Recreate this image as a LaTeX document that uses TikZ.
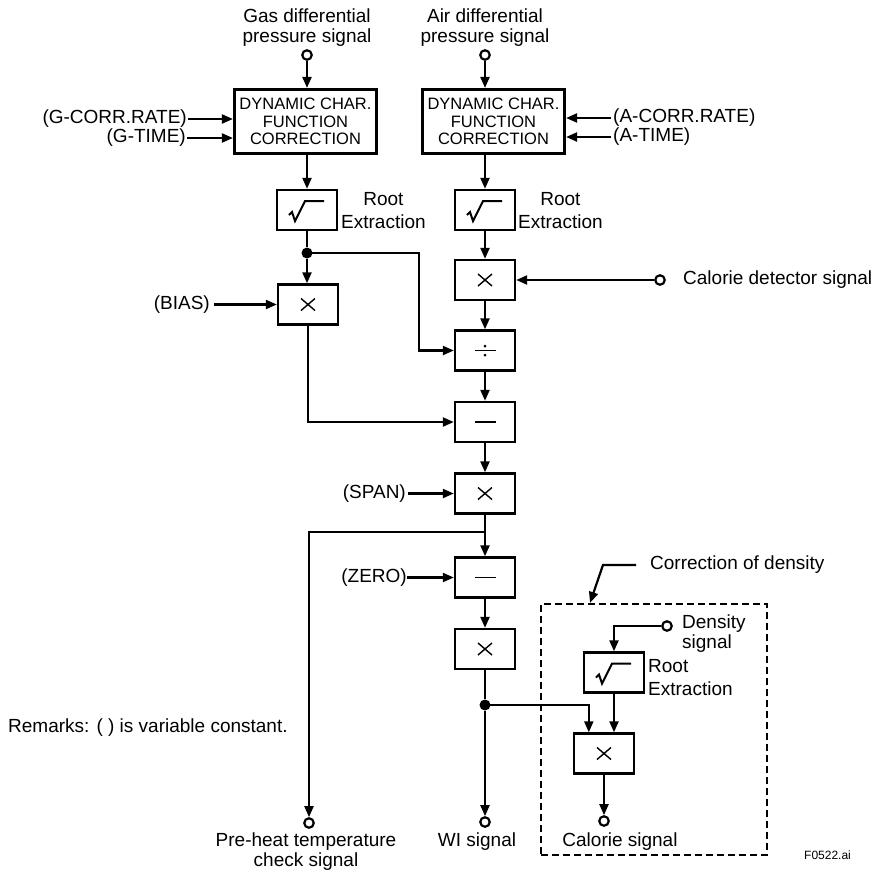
\documentclass[tikz,border=0pt]{standalone}
\usepackage{fontspec}
\setmainfont{Liberation Sans}
\usetikzlibrary{arrows.meta,calc}
\newcommand\MulSym[1]{\draw[sym] ($(#1)+(-7,-6)$) -- ++(14,12) ($(#1)+(-7,6)$) -- ++(14,-12);}
\newcommand\DivSym[1]{\draw[sym] ($(#1)+(-10.5,0)$) -- ++(21,0); \fill ($(#1)+(0,-4.5)$) circle (1.5) ($(#1)+(0,4.5)$) circle (1.5);}
\newcommand\SubSym[1]{\draw[sym] ($(#1)+(-10.5,0)$) -- ++(21,0);}
\newcommand\RootSym[1]{\draw[line width=2pt,line join=miter] ($(#1)+(-18,5)$) -- ++(3,-3) -- ++(3,9) -- ++(10,-20) -- ++(19,0);}
\begin{document}
\begin{tikzpicture}[x=1pt,y=-1pt,
  box/.style={draw, line width=2.4pt, minimum width=60pt, minimum height=40pt, inner sep=0pt, fill=white},
  dcf/.style={draw, line width=3.2pt, minimum width=142pt, minimum height=64pt, align=center, inner sep=0pt,
     font=\fontsize{16.5}{17.5}\selectfont},
  conn/.style={line width=2.2pt, -{Triangle[length=11pt,width=9pt]}},
  inarr/.style={conn, shorten <=2pt},
  wire/.style={line width=2.2pt},
  sym/.style={line width=1.4pt},
  term/.style={circle, draw, line width=2.2pt, fill=white, inner sep=0pt, minimum size=9.5pt},
  jdot/.style={circle, fill, inner sep=0pt, minimum size=11pt},
  lbl/.style={inner sep=0pt, font=\fontsize{19}{20}\selectfont},
  lbl2/.style={inner sep=0pt, font=\fontsize{19}{23}\selectfont},
]
\useasboundingbox (0,0) rectangle (878,871);

% ---------------- nodes ----------------
\node[lbl, align=center, anchor=south] (gasLbl) at (307,47) {Gas differential\\pressure signal};
\node[lbl, align=center, anchor=south] (airLbl) at (485,47) {Air differential\\pressure signal};
\node[term] (gasIn) at (307,55) {};
\node[term] (airIn) at (485,55) {};

\node[dcf] (dcfG) at (305.5,121.5) {DYNAMIC CHAR.\\FUNCTION\\CORRECTION};
\node[dcf] (dcfA) at (493.5,121.5) {DYNAMIC CHAR.\\FUNCTION\\CORRECTION};

\node[lbl, anchor=east] (gcorr) at (187,119) {(G-CORR.RATE)};
\node[lbl, anchor=east] (gtime) at (186,138) {(G-TIME)};
\node[lbl, anchor=west] (acorr) at (613,118) {(A-CORR.RATE)};
\node[lbl, anchor=west] (atime) at (613,137) {(A-TIME)};

\node[box] (rootG) at (307,210) {};
\node[box] (rootA) at (485,210) {};
\node[lbl2, align=center, anchor=west] (rootGLbl) at (341,211) {Root\\Extraction};
\node[lbl2, align=center, anchor=west] (rootALbl) at (518,211) {Root\\Extraction};

\node[jdot] (dot1) at (307,253) {};
\node[box] (bias) at (308,304.5) {};
\node[lbl, anchor=east] (biasLbl) at (210,304.5) {(BIAS)};

\node[box] (mulA) at (485,280) {};
\node[term] (calDet) at (660,280) {};
\node[lbl, anchor=west] (calDetLbl) at (683,280) {Calorie detector signal};

\node[box] (div) at (485,350.5) {};
\node[box] (sub) at (485,422) {};
\node[box] (span) at (485,493.5) {};
\node[lbl, anchor=east] (spanLbl) at (406,493.5) {(SPAN)};
\coordinate (br2) at (485,532);
\node[box] (zero) at (485,577.5) {};
\node[lbl, anchor=east] (zeroLbl) at (407,577.5) {(ZERO)};
\node[box] (mul2) at (485,649) {};
\node[jdot] (dot2) at (485,705) {};

\node[term] (preheat) at (309,823) {};
\node[term] (wi) at (485,822) {};
\node[lbl, align=center, anchor=north] (preheatLbl) at (306,833) {Pre-heat temperature\\check signal};
\node[lbl, anchor=north] (wiLbl) at (477,833) {WI signal};

\node[lbl, anchor=west] (remarks) at (8,728) {Remarks: ( ) is variable constant.};

% density correction
\node[draw, line width=2.2pt, dash pattern=on 7pt off 4pt, minimum width=226pt, minimum height=251pt, inner sep=0pt] (dbox) at (654,729.5) {};
\node[lbl, anchor=west] (corrLbl) at (650,565) {Correction of density};
\coordinate (ldA) at (636,565);
\coordinate (ldB) at (603,565);
\node[term] (dens) at (667,626) {};
\node[lbl, align=left, anchor=west] (densLbl) at (682,634) {Density\\signal};
\node[box] (rootD) at (614,672.5) {};
\node[lbl2, align=left, anchor=west] (rootDLbl) at (648,678) {Root\\Extraction};
\node[box] (mulD) at (604,753.5) {};
\node[term] (calOut) at (604,821) {};
\node[lbl, anchor=north] (calOutLbl) at (620,833) {Calorie signal};

\node[inner sep=0pt, anchor=west, font=\fontsize{12}{13}\selectfont] (fig) at (804,855) {F0522.ai};

% ---------------- symbols ----------------
\RootSym{rootG.center}
\RootSym{rootA.center}
\RootSym{rootD.center}
\MulSym{bias.center}
\MulSym{mulA.center}
\MulSym{span.center}
\MulSym{mul2.center}
\MulSym{mulD.center}
\DivSym{div.center}
\SubSym{sub.center}
\SubSym{zero.center}

% ---------------- connectors ----------------
\draw[conn] (gasIn) -- (gasIn |- dcfG.north);
\draw[conn] (airIn) -- (airIn |- dcfA.north);
\draw[inarr, shorten <=1pt] (gcorr.east) -- (dcfG.west |- gcorr.east);
\draw[inarr, shorten <=1pt] (gtime.east) -- (dcfG.west |- gtime.east);
\draw[inarr] (acorr.west) -- (dcfA.east |- acorr.west);
\draw[inarr] (atime.west) -- (dcfA.east |- atime.west);

\draw[conn] (rootG |- dcfG.south) -- (rootG.north);
\draw[conn] (rootA |- dcfA.south) -- (rootA.north);

\draw[wire] (rootG.south) -- (dot1);
\draw[conn] (dot1) -- (dot1 |- bias.north);
\draw[inarr, shorten <=4pt] (biasLbl.east) -- (bias.west);
\draw[conn] (dot1.center) -| (419,300) |- (div.west);
\draw[conn] (bias.south) |- (sub.west);

\draw[conn] (rootA.south) -- (mulA.north);
\draw[conn] (calDet) -- (mulA.east);
\draw[conn] (mulA.south) -- (div.north);
\draw[conn] (div.south) -- (sub.north);
\draw[conn] (sub.south) -- (span.north);
\draw[inarr] (spanLbl.east) -- (span.west);
\draw[conn] (span.south) -- (zero.north);
\draw[conn] (br2) -| (preheat.north);
\draw[inarr, shorten <=0pt] (zeroLbl.east) -- (zero.west);
\draw[conn] (zero.south) -- (mul2.north);
\draw[wire] (mul2.south) -- (dot2);
\draw[conn] (dot2) -- (wi.north);
\draw[conn] (dot2.center) -| ($(mulD.north west)+(16,0)$);

\draw[conn] (ldA) -- (ldB) -- (dbox.north -| 590,0);
\draw[conn] (dens.west) -| (rootD.north);
\draw[conn] (rootD.south) -- (rootD.south |- mulD.north);
\draw[conn] (mulD.south) -- (calOut.north);
\end{tikzpicture}
\end{document}
